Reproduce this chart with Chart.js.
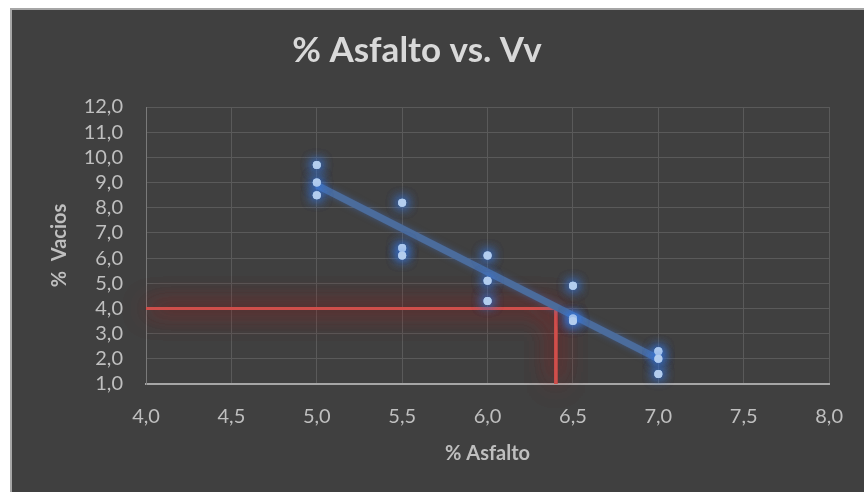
<!DOCTYPE html>
<html><head><meta charset="utf-8">
<script src="https://cdn.jsdelivr.net/npm/chart.js@4/dist/chart.umd.min.js"></script>
<style>html,body{margin:0;padding:0;background:#fff;overflow:hidden;} canvas{display:block;}</style>
</head><body>
<canvas id="c" width="864" height="492"></canvas>
<script>
const chartTitle = '% Asfalto vs. Vv';
const xAxisTitle = '% Asfalto';
const yAxisTitle = '%  Vacios';
const asphaltPct = [5.0, 5.0, 5.0, 5.5, 5.5, 5.5, 6.0, 6.0, 6.0, 6.5, 6.5, 6.5, 7.0, 7.0, 7.0];
const voidsPct   = [9.7, 9.0, 8.5, 8.2, 6.4, 6.1, 6.1, 5.1, 4.3, 4.9, 3.6, 3.5, 2.3, 2.0, 1.4];
const trendX = [5.0, 7.0];
const trendY = [8.9, 2.0];
const designX = [4.0, 6.4, 6.4];
const designY = [4.0, 4.0, 1.0];
const xTickValues = [4.0, 4.5, 5.0, 5.5, 6.0, 6.5, 7.0, 7.5, 8.0];
const yTickValues = [1, 2, 3, 4, 5, 6, 7, 8, 9, 10, 11, 12];

const FONT = 'Lato, "Open Sans", sans-serif';
const fmt = v => Number(v).toFixed(1).replace('.', ',');
const zip = (xs, ys) => xs.map((x, i) => ({x: x, y: ys[i]}));

const framePlugin = {
  id: 'frame',
  beforeDraw(chart) {
    const ctx = chart.ctx;
    ctx.save();
    ctx.fillStyle = '#ffffff';
    ctx.fillRect(0, 0, chart.width, chart.height);
    ctx.fillStyle = '#a6a6a6';
    ctx.fillRect(10, 8, chart.width - 10, chart.height - 8);
    ctx.fillStyle = '#404040';
    ctx.fillRect(12, 10, chart.width - 12, chart.height - 10);
    ctx.restore();
  },
  afterDraw(chart) {
    const ctx = chart.ctx;
    ctx.save();
    ctx.fillStyle = '#d9d9d9';
    ctx.font = 'bold 35px ' + FONT;
    ctx.textAlign = 'center';
    ctx.textBaseline = 'middle';
    ctx.fillText(chartTitle, 417, 51);
    ctx.restore();
  }
};

const glowPlugin = {
  id: 'glow',
  beforeDatasetDraw(chart, args) {
    const ds = chart.data.datasets[args.index];
    if (ds.glowColor) {
      const ctx = chart.ctx;
      ctx.save();
      ctx.shadowColor = ds.glowColor;
      ctx.shadowBlur = ds.glowBlur;
      ctx.shadowOffsetX = 0;
      ctx.shadowOffsetY = 0;
    }
  },
  afterDatasetDraw(chart, args) {
    const ds = chart.data.datasets[args.index];
    if (ds.glowColor) {
      for (let i = 1; i < (ds.glowPasses || 1); i++) args.meta.controller.draw();
      chart.ctx.restore();
    }
  }
};

new Chart(document.getElementById('c'), {
  type: 'scatter',
  data: {
    datasets: [
      {
        label: 'Vv',
        data: zip(asphaltPct, voidsPct),
        pointRadius: 4,
        pointHoverRadius: 4,
        backgroundColor: '#b3cdee',
        borderWidth: 0,
        glowColor: 'rgba(55,120,225,1)',
        glowBlur: 12,
        glowPasses: 3,
        order: 0
      },
      {
        label: 'Tendencia',
        data: zip(trendX, trendY),
        showLine: true,
        pointRadius: 0,
        borderColor: '#4b6c9c',
        borderWidth: 7,
        glowColor: 'rgba(68,114,196,0.5)',
        glowBlur: 6,
        order: 1
      },
      {
        label: 'Diseño',
        data: zip(designX, designY),
        showLine: true,
        pointRadius: 0,
        borderColor: '#cf4f4b',
        borderWidth: 3,
        borderJoinStyle: 'miter',
        glowColor: 'rgba(170,25,25,0.8)',
        glowBlur: 26,
        glowPasses: 3,
        order: 2
      }
    ]
  },
  options: {
    responsive: false,
    animation: false,
    devicePixelRatio: 1,
    layout: {padding: {left: 13, top: 107, right: 33, bottom: 0}},
    plugins: {legend: {display: false}, tooltip: {enabled: false}, title: {display: false}},
    scales: {
      x: {
        type: 'linear', min: 4, max: 8,
        afterBuildTicks: s => { s.ticks = xTickValues.map(v => ({value: v})); },
        afterFit: s => { s.height = 108; },
        ticks: {color: '#bfbfbf', font: {family: FONT, size: 20}, padding: 21, callback: v => fmt(v), maxRotation: 0, autoSkip: false},
        grid: {color: '#5a5a5a', lineWidth: 1, drawTicks: false},
        border: {color: '#a6a6a6', width: 2},
        title: {display: true, text: xAxisTitle, color: '#bfbfbf', font: {family: FONT, size: 20, weight: 'bold'}, padding: {top: 0, bottom: 26}}
      },
      y: {
        type: 'linear', min: 1, max: 12,
        afterBuildTicks: s => { s.ticks = yTickValues.map(v => ({value: v})); },
        afterFit: s => { s.width = 133; },
        ticks: {color: '#bfbfbf', font: {family: FONT, size: 20}, padding: 23, callback: v => fmt(v), autoSkip: false},
        grid: {color: '#5a5a5a', lineWidth: 1, drawTicks: false},
        border: {color: '#7a7a7a', width: 1},
        title: {display: true, text: yAxisTitle, color: '#bfbfbf', font: {family: FONT, size: 20, weight: 'bold'}, padding: {top: 35, bottom: 0}}
      }
    }
  },
  plugins: [framePlugin, glowPlugin]
});
</script>
</body></html>
